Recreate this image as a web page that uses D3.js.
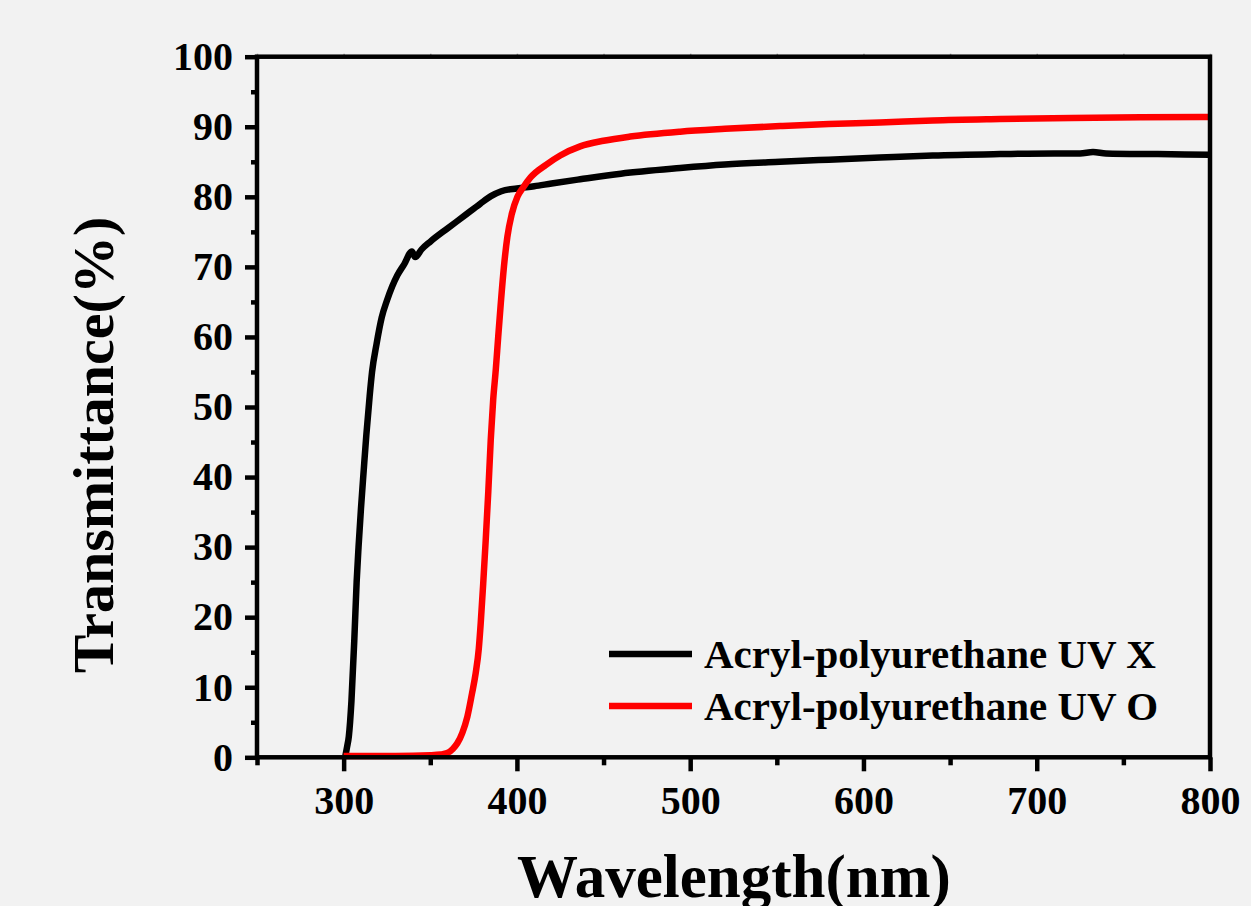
<!DOCTYPE html>
<html>
<head>
<meta charset="utf-8">
<script src="https://cdn.jsdelivr.net/npm/d3@7"></script>
<style>
  html, body { margin: 0; padding: 0; background: #f2f2f2; }
  svg text { font-family: "Liberation Serif", "Times New Roman", serif; font-weight: bold; fill: #000; }
</style>
</head>
<body>
<div id="dchart"></div>
<script>
// series data: [wavelength nm, transmittance %]
var uvXData = [
  [301, 0.2], [302, 1.5], [303, 3], [304.5, 8], [306.2, 17], [307.5, 25], [308.6, 30],
  [310, 35.5], [311.6, 41], [313.1, 46], [315, 51.5], [316.4, 55], [319, 59],
  [322, 62.8], [325, 65.2], [328, 67.2], [331, 68.8], [335, 70.4], [339.4, 72.2],
  [341.3, 71.4], [345, 72.5], [350, 73.6], [360, 75.5], [369.2, 77.2], [378.8, 79.0],
  [385, 80.1], [391, 80.8], [400, 81.2], [410, 81.5], [420, 81.9], [436.5, 82.5], [460, 83.3],
  [494.2, 84.1], [520, 84.6], [551.9, 85.0], [580, 85.3], [609.5, 85.6], [640, 85.9],
  [678.7, 86.1], [710, 86.2], [725, 86.2], [732.5, 86.4], [740, 86.2], [770, 86.1], [800, 86.0]
];
var uvOData = [
  [300, 0.2], [330, 0.2], [350, 0.3], [356, 0.4], [359.8, 0.6], [363, 1.2], [365.6, 2.0],
  [368.5, 3.5], [371.4, 5.8], [374, 9], [376.2, 12], [378, 15.5], [379.1, 19.1],
  [380.6, 25], [382, 31], [383.5, 38], [384.9, 45.3], [386.3, 51], [387.8, 55.3],
  [389.2, 60], [390.7, 64.8], [392.5, 70], [394.5, 74.3], [397, 77.5], [400.3, 80.0],
  [403.8, 81.4], [408, 82.8], [417, 84.6], [425, 85.9], [436.5, 87.2], [450, 88.0],
  [465.4, 88.6], [494.2, 89.3], [520, 89.7], [551.9, 90.1], [580, 90.4], [609.5, 90.6],
  [640, 90.9], [678.7, 91.1], [720, 91.25], [760, 91.35], [800, 91.4]
];
var seriesNames = ["Acryl-polyurethane UV X", "Acryl-polyurethane UV O"];
var seriesColors = ["#000000", "#ff0000"];

var xMajorTicks = [300, 400, 500, 600, 700, 800];
var xMinorTicks = [250, 350, 450, 550, 650, 750];
var yMajorTicks = [0, 10, 20, 30, 40, 50, 60, 70, 80, 90, 100];
var yMinorTicks = [5, 15, 25, 35, 45, 55, 65, 75, 85, 95];

// set the dimensions and margins of the graph
var W = 1251, H = 906;
var margin = {top: 56.7, right: 41, bottom: 148.7, left: 257},
  width = W - margin.left - margin.right,
  height = H - margin.top - margin.bottom;

var svg = d3.select("#dchart")
  .append("svg")
    .attr("width", W)
    .attr("height", H)
    .style("display", "block");

svg.append("rect")
  .attr("width", W).attr("height", H)
  .attr("fill", "#f2f2f2");

var g = svg.append("g")
  .attr("transform", "translate(" + margin.left + "," + margin.top + ")");

var x = d3.scaleLinear().domain([250, 800]).range([0, width]);
var y = d3.scaleLinear().domain([0, 100]).range([height, 0]);

// curves
var line = d3.line()
  .x(function(d) { return x(d[0]); })
  .y(function(d) { return y(d[1]); })
  .curve(d3.curveMonotoneX);

[uvXData, uvOData].forEach(function(data, i) {
  g.append("path")
    .datum(data)
    .attr("fill", "none")
    .attr("stroke", seriesColors[i])
    .attr("stroke-width", 6.5)
    .attr("stroke-linejoin", "round")
    .attr("d", line);
});

// faint ticks on the top edge
var topAx = g.append("g")
  .call(d3.axisTop(x).tickValues(xMajorTicks.concat(xMinorTicks)).tickSize(3).tickSizeOuter(0).tickFormat(""));
topAx.select(".domain").remove();
topAx.selectAll("line").attr("stroke", "#999").attr("stroke-width", 1.5);

// X axis, major + minor
var xAx = g.append("g")
  .attr("transform", "translate(0," + height + ")")
  .call(d3.axisBottom(x).tickValues(xMajorTicks).tickSize(14).tickSizeOuter(0).tickPadding(14));
xAx.select(".domain").remove();
xAx.selectAll("line").attr("stroke", "#000").attr("stroke-width", 4.5);
xAx.selectAll("text").style("font-size", "40px");

var xMin = g.append("g")
  .attr("transform", "translate(0," + height + ")")
  .call(d3.axisBottom(x).tickValues(xMinorTicks).tickSize(8).tickSizeOuter(0).tickFormat(""));
xMin.select(".domain").remove();
xMin.selectAll("line").attr("stroke", "#000").attr("stroke-width", 4.5);

// Y axis, major + minor
var yAx = g.append("g")
  .call(d3.axisLeft(y).tickValues(yMajorTicks).tickSize(12).tickSizeOuter(0).tickPadding(12));
yAx.select(".domain").remove();
yAx.selectAll("line").attr("stroke", "#000").attr("stroke-width", 4.5);
yAx.selectAll("text").style("font-size", "40px");

var yMin = g.append("g")
  .call(d3.axisLeft(y).tickValues(yMinorTicks).tickSize(6).tickSizeOuter(0).tickFormat(""));
yMin.select(".domain").remove();
yMin.selectAll("line").attr("stroke", "#000").attr("stroke-width", 4.5);

// frame
g.append("rect")
  .attr("width", width)
  .attr("height", height)
  .attr("fill", "none")
  .attr("stroke", "#000")
  .attr("stroke-width", 4.5);

// axis titles
svg.append("text")
  .attr("x", 734)
  .attr("y", 897)
  .attr("text-anchor", "middle")
  .style("font-size", "61px")
  .text("Wavelength(nm)");

svg.append("text")
  .attr("transform", "translate(113,445) rotate(-90)")
  .attr("text-anchor", "middle")
  .style("font-size", "58px")
  .text("Transmittance(%)");

// legend
var legend = svg.append("g");
seriesNames.forEach(function(name, i) {
  var ly = 654 + i * 52;
  legend.append("line")
    .attr("x1", 609).attr("x2", 692)
    .attr("y1", ly).attr("y2", ly)
    .attr("stroke", seriesColors[i])
    .attr("stroke-width", 6.5);
  legend.append("text")
    .attr("x", 704)
    .attr("y", ly + 14)
    .style("font-size", "41px")
    .text(name);
});
</script>
</body>
</html>
